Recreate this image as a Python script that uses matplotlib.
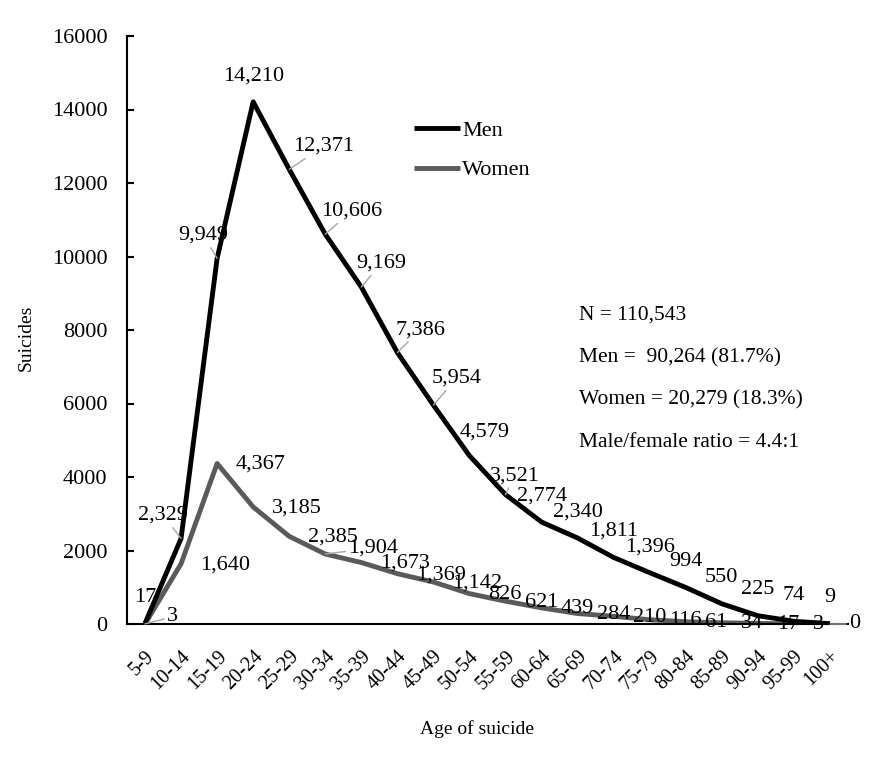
import numpy as np
import matplotlib.pyplot as plt

plt.rcParams['font.family'] = ['Liberation Serif', 'DejaVu Serif']
plt.rcParams['font.size'] = 16

ages = ["5-9", "10-14", "15-19", "20-24", "25-29", "30-34", "35-39", "40-44",
        "45-49", "50-54", "55-59", "60-64", "65-69", "70-74", "75-79", "80-84",
        "85-89", "90-94", "95-99", "100+"]
men = [17, 2329, 9949, 14210, 12371, 10606, 9169, 7386, 5954, 4579, 3521,
       2774, 2340, 1811, 1396, 994, 550, 225, 74, 9]
women = [3, 1640, 4367, 3185, 2385, 1904, 1673, 1369, 1142, 826, 621, 439,
         284, 210, 116, 61, 34, 17, 3, 0]
stats = ["N = 110,543", "Men =  90,264 (81.7%)", "Women = 20,279 (18.3%)",
         "Male/female ratio = 4.4:1"]

# label offsets in pixels (dx, dy) - men labels centred above the point
men_off = {1: (-18, 23), 2: (-14, 23), 4: (34, 23), 5: (26, 23), 6: (20, 24),
           7: (23, 23), 8: (23, 27), 9: (15, 24), 10: (9, 19)}
men_leader = [1, 2, 4, 5, 6, 7, 8, 10]
# women labels left aligned to the right of the point
women_off = {0: (22, 7), 5: (23, 6), 19: (19, 0)}
women_leader = [0, 5, 19]

fig = plt.figure(figsize=(8.84, 7.63), dpi=100)
ax = fig.add_axes([127 / 884, 1 - 624 / 763, 721 / 884, 588 / 763])

x = np.arange(len(ages))
ax.plot(x, women, color="#5a5a5a", lw=3.5, label="Women", solid_capstyle="butt", zorder=2)
ax.plot(x, men, color="black", lw=3.5, label="Men", solid_capstyle="butt", zorder=3)

ax.set_xlim(-0.5, len(ages) - 0.5)
ax.set_ylim(0, 16000)
ax.set_yticks(np.arange(0, 16001, 2000))
ax.set_xticks(x)
ax.set_xticklabels(ages, rotation=45, ha="right", va="top", rotation_mode="anchor",
                   fontsize=14.5)
ax.tick_params(axis="x", length=0, pad=16.5)
ax.tick_params(axis="y", direction="in", length=5, width=1.5, pad=14)

for s in ["top", "right"]:
    ax.spines[s].set_visible(False)
ax.spines["left"].set_linewidth(1.5)
ax.spines["bottom"].set_linewidth(1.5)

leader = dict(arrowstyle="-", color="#a6a6a6", lw=1, shrinkA=0, shrinkB=0)

for i, v in enumerate(men):
    dx, dy = men_off.get(i, (0, 26))
    ax.annotate(f"{v:,}", (i, v), xytext=(dx, dy), textcoords="offset pixels",
                ha="center", va="center", zorder=4,
                arrowprops=leader if i in men_leader else None)

for i, v in enumerate(women):
    dx, dy = women_off.get(i, (19, -1))
    ax.annotate(f"{v:,}", (i, v), xytext=(dx, dy), textcoords="offset pixels",
                ha="left", va="center", zorder=4,
                arrowprops=leader if i in women_leader else None)

handles, labels = ax.get_legend_handles_labels()
ax.legend(handles[::-1], labels[::-1], loc="upper left", bbox_to_anchor=(0.398, 0.857),
          frameon=False, handlelength=2.07, handletextpad=0.1, labelspacing=0.86,
          borderpad=0, borderaxespad=0)

for k, t in enumerate(stats):
    ax.text(0.627, [0.5255, 0.452, 0.381, 0.308][k], t, transform=ax.transAxes,
            ha="left", va="center", fontsize=15.5)

ax.set_ylabel("Suicides", fontsize=14)
ax.yaxis.set_label_coords(-0.128, 0.486)
ax.set_xlabel("Age of suicide", fontsize=14)
ax.xaxis.set_label_coords(0.485, -0.163)

fig.savefig("out.png", dpi=100)
